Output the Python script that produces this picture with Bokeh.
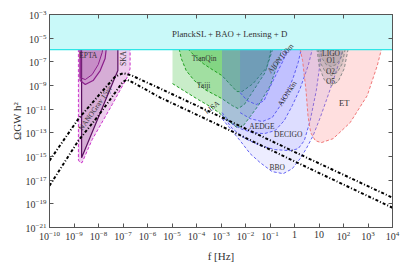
import numpy as np
from bokeh.plotting import figure
from bokeh.models import FixedTicker, LogAxis, ColumnDataSource
from bokeh.core.properties import value
from bokeh.embed import file_html
from bokeh.resources import INLINE

FONT = "Liberation Serif"

# ---- axes (exponents of ten) ----
x_range_exp = (-10, 4)
y_range_exp = (-21, -3)
x_tick_exp = list(range(-10, 5))
x_top_tick_exp = list(range(-10, 5, 2))
y_tick_exp = list(range(-21, -2, 2))
x_plain_tick_labels = {1.0: "1", 10.0: "10"}
x_title = "f [Hz]"
y_title = "ΩGW h²"

# ---- PlanckSL + BAO + Lensing + D bound ----
planck_bound_exp = -5.96
planck_label = "PlanckSL + BAO + Lensing + D"

# ---- GW spectra, log10 f [Hz] and log10 Omega h^2 ----
upper_logf = [-10.0, -8.82, -8.0, -7.32, -6.99, -6.64, -5.48, -2.95, 0.11, 4.0]
upper_logomega = [-15.35, -11.82, -9.85, -8.25, -7.95, -8.16, -9.26, -11.71, -14.72, -18.48]
lower_logf = [-10.0, -8.82, -8.0, -7.32, -7.03, -6.85, -6.50, -5.48, -2.95, 0.11, 4.0]
lower_logomega = [-17.47, -13.66, -11.54, -9.60, -8.75, -8.50, -8.85, -10.02, -12.48, -15.52, -19.33]

# ---- sensitivity curves (log10 f, log10 Omega h^2) ----
ska_logf = [-8.82, -8.82, -8.75, -8.67, -8.26, -7.44, -6.79, -6.71, -6.71]
ska_logomega = [-5.5, -15.3, -15.52, -15.52, -13.58, -10.61, -8.16, -7.57, -5.5]
nano_logf = [-8.69, -8.69, -7.21, -7.21]
nano_logomega = [-5.5, -15.10, -7.74, -5.5]
epta2_logf = [-8.75, -8.75, -8.54, -8.22, -7.93, -7.73, -7.66]
epta2_logomega = [-5.5, -8.58, -8.92, -8.58, -7.74, -6.72, -5.5]
epta1_logf = [-8.75, -8.75, -8.54, -8.26, -8.01, -7.85, -7.80]
epta1_logomega = [-5.5, -8.33, -8.50, -8.08, -7.23, -6.21, -5.5]

lisa_logf = [-4.98, -4.46, -3.93, -3.44, -3.10, -2.71, -2.34, -2.09, -1.81, -1.48, -0.99, -0.67, -0.46]
lisa_logomega = [-8.84, -9.51, -10.19, -10.78, -11.27, -11.97, -12.56, -12.39, -11.63, -10.70, -9.01, -7.06, -5.5]
taiji_logf = [-4.75, -4.62, -4.42, -4.09, -3.65, -2.96, -2.54, -2.30, -2.05, -1.73, -1.20, -0.91, -0.87]
taiji_logomega = [-5.5, -6.72, -7.74, -8.58, -9.35, -10.11, -10.70, -10.95, -10.61, -9.60, -7.91, -6.05, -5.5]
tianqin_logf = [-4.42, -4.33, -4.01, -3.71, -3.36, -2.96, -2.62, -2.35, -2.14, -1.69, -1.13, -0.99, -0.95]
tianqin_logomega = [-5.5, -5.96, -6.64, -7.17, -7.65, -8.16, -8.92, -9.51, -9.51, -8.84, -7.46, -6.30, -5.5]

aedge_logf = [-2.96, -2.62, -2.22, -1.73, -1.24, -0.79, -0.42, -0.09, 0.23, 0.56, 0.78]
aedge_logomega = [-11.29, -12.14, -12.64, -12.98, -13.07, -12.81, -11.97, -10.70, -9.26, -7.31, -5.5]
aion100_logf = [-2.22, -1.93, -1.56, -1.24, -0.99, -0.71, -0.46, -0.20]
aion100_logomega = [-9.60, -10.28, -10.61, -10.28, -9.09, -7.91, -6.89, -5.5]
aionkm_logf = [-2.22, -1.81, -1.32, -0.91, -0.58, -0.30, -0.05, 0.15, 0.32]
aionkm_logomega = [-11.29, -11.80, -12.05, -11.71, -10.70, -9.60, -8.33, -7.06, -5.5]
decigo_logf = [-2.96, -2.54, -2.01, -1.40, -0.79, -0.18, 0.15, 0.40, 0.64, 0.89, 1.05, 1.15]
decigo_logomega = [-11.46, -12.64, -13.49, -14.08, -14.42, -14.51, -14.34, -13.66, -11.97, -9.43, -7.06, -5.5]
bbo_logf = [-2.96, -2.22, -1.81, -1.40, -0.91, -0.46, -0.09, 0.23, 0.48, 0.76, 1.05, 1.34, 1.62, 1.87, 2.05]
bbo_logomega = [-11.80, -13.66, -14.76, -15.52, -16.28, -16.45, -16.03, -15.18, -14.34, -13.24, -11.71, -10.02, -8.33, -6.72, -5.5]

et_logf = [0.18, 0.33, 0.47, 0.55, 0.66, 0.85, 1.09, 1.58, 2.27, 2.97, 3.38, 3.60]
et_logomega = [-5.5, -6.89, -9.43, -11.54, -12.98, -13.66, -13.83, -13.49, -12.14, -9.85, -7.31, -5.5]
ligo_o5_logf = [0.89, 1.01, 1.21, 1.50, 1.78, 2.03, 2.23]
ligo_o5_logomega = [-5.5, -7.40, -8.50, -9.01, -8.67, -7.57, -5.5]
ligo_o2_logf = [0.93, 1.05, 1.25, 1.50, 1.74, 1.95, 2.11]
ligo_o2_logomega = [-5.5, -7.06, -7.82, -8.16, -7.91, -7.15, -5.5]
ligo_o1_logf = [0.97, 1.13, 1.29, 1.50, 1.70, 1.91, 2.03]
ligo_o1_logomega = [-5.5, -6.72, -7.23, -7.40, -7.23, -6.64, -5.5]

# ---- region labels ----
label_text = ["EPTA", "SKA", "NANOGrav 15yr", "TianQin", "Taiji", "LISA", "AEDGE", "DECIGO",
              "BBO", "AION100m", "AIONkm", "LIGO", "O1", "O2", "O5"]
label_logf = [-8.42, -6.99, -8.13, -3.69, -3.71, -3.37, -1.33, -0.26,
              -0.71, -0.58, -0.30, 1.49, 1.49, 1.47, 1.47]
label_logomega = [-6.47, -6.72, -10.91, -6.75, -9.01, -10.84, -12.45, -13.15,
                  -15.94, -6.72, -9.68, -6.33, -6.89, -7.82, -8.64]
label_angle = [0, 90, 55, 0, 0, 37, 0, 0, 0, 50, 57, 0, 0, 0, 0]
et_label = "ET"
et_label_pos = (2.03, -10.44)
planck_label_pos = (-2.64, -4.61)


def P(a):
    return 10.0 ** np.asarray(a, dtype=float)


p = figure(x_axis_type="log", y_axis_type="log",
           x_range=(float(P(x_range_exp[0])), float(P(x_range_exp[1]))),
           y_range=(float(P(y_range_exp[0])), float(P(y_range_exp[1]))),
           frame_width=343, frame_height=213,
           min_border_left=49, min_border_right=13, min_border_top=14, min_border_bottom=40,
           output_backend="svg", toolbar_location=None,
           background_fill_color="white", border_fill_color="white")
p.xgrid.visible = False
p.ygrid.visible = False
p.outline_line_color = "#555555"

AX = "#555555"


def style_axis(ax):
    ax.major_tick_in = 4
    ax.major_tick_out = 0
    ax.minor_tick_line_color = None
    ax.axis_line_color = AX
    ax.major_tick_line_color = AX
    ax.major_label_text_font = FONT
    ax.major_label_text_color = "#333333"
    ax.major_label_text_font_size = "10px"
    ax.major_label_standoff = 3
    ax.axis_label_text_font = FONT
    ax.axis_label_text_font_style = "normal"
    ax.axis_label_text_color = "#333333"
    ax.axis_label_text_font_size = "11px"


p.xaxis.ticker = FixedTicker(ticks=list(P(x_tick_exp)))
p.xaxis.major_label_overrides = x_plain_tick_labels
p.yaxis.ticker = FixedTicker(ticks=list(P(y_tick_exp)))
style_axis(p.xaxis[0])
style_axis(p.yaxis[0])
p.xaxis.axis_label = x_title
p.xaxis.axis_label_standoff = 7
p.yaxis.axis_label = y_title
p.yaxis.axis_label_standoff = 0

top_ticks = [float(t) for t in P(x_top_tick_exp)]
right_ticks = [float(t) for t in P(y_tick_exp)]
top_ax = LogAxis(ticker=FixedTicker(ticks=top_ticks),
                 major_label_overrides={t: "" for t in top_ticks})
right_ax = LogAxis(ticker=FixedTicker(ticks=right_ticks),
                   major_label_overrides={t: "" for t in right_ticks})
for ax in (top_ax, right_ax):
    style_axis(ax)
    ax.major_label_standoff = 0
p.add_layout(top_ax, "above")
p.add_layout(right_ax, "right")

REGION_TOP = -5.0


def region(logf, logom, fill, alpha, line_color, dash="3 2", width=1.0, line_alpha=1.0):
    xs = [logf[0]] + list(logf) + [logf[-1]]
    ys = [REGION_TOP] + list(logom) + [REGION_TOP]
    p.patch(P(xs), P(ys), fill_color=fill, fill_alpha=alpha, line_alpha=0)
    p.line(P(logf), P(logom), line_color=line_color, line_dash=dash, line_width=width,
           line_alpha=line_alpha)


# PTA
region(ska_logf, ska_logomega, "#cc66cc", 0.33, "#cc33cc")
region(nano_logf, nano_logomega, "#9a5a9a", 0.28, "#5a1060", dash="solid", width=1.2)
region(epta2_logf, epta2_logomega, "#b050b0", 0.2, "#8a1f8a", dash="solid", width=1.2)
region(epta1_logf, epta1_logomega, "#a040a0", 0.15, "#8a1f8a", dash="solid", width=1.0)

# space-based, green
GF, GL = "#2eb82e", "#1f9f1f"
region(lisa_logf, lisa_logomega, GF, 0.26, GL)
region(taiji_logf, taiji_logomega, GF, 0.26, GL)
region(tianqin_logf, tianqin_logomega, GF, 0.26, GL)

# atom interferometers / DECIGO / BBO, blue
BF, BL = "#5a5aff", "#4a4af0"
for lf, lo in [(bbo_logf, bbo_logomega), (decigo_logf, decigo_logomega),
               (aedge_logf, aedge_logomega), (aionkm_logf, aionkm_logomega),
               (aion100_logf, aion100_logomega)]:
    region(lf, lo, BF, 0.11, BL, line_alpha=0.85)

# ET and LIGO
region(et_logf, et_logomega, "#ff8c8c", 0.28, "#f07878")
for lf, lo in [(ligo_o5_logf, ligo_o5_logomega), (ligo_o2_logf, ligo_o2_logomega),
               (ligo_o1_logf, ligo_o1_logomega)]:
    region(lf, lo, "#808080", 0.18, "#8a8a8a")

# spectra
for lf, lo in [(upper_logf, upper_logomega), (lower_logf, lower_logomega)]:
    p.line(P(lf), P(lo), line_color="black", line_width=2.0, line_dash="3 2 1 2")

# Planck band
p.quad(left=[float(P(x_range_exp[0]))], right=[float(P(x_range_exp[1]))],
       bottom=[float(P(planck_bound_exp))], top=[float(P(y_range_exp[1]))],
       fill_color="#c9f9f9", line_color=None)
p.line(P(list(x_range_exp)), P([planck_bound_exp, planck_bound_exp]),
       line_color="#2ee6e6", line_width=1.2)

# labels
src = ColumnDataSource(dict(x=P(label_logf), y=P(label_logomega), text=label_text,
                            angle=label_angle))
p.text(x="x", y="y", text="text", angle="angle", angle_units="deg", source=src,
       text_font=value(FONT), text_font_size="7.5px", text_color="#333333",
       text_align="center", text_baseline="middle")
p.text(x=[float(P(et_label_pos[0]))], y=[float(P(et_label_pos[1]))], text=[et_label],
       text_font=value(FONT), text_font_size="8.5px", text_color="#333333",
       text_align="center", text_baseline="middle")
p.text(x=[float(P(planck_label_pos[0]))], y=[float(P(planck_label_pos[1]))], text=[planck_label],
       text_font=value(FONT), text_font_size="8.8px", text_color="#333333",
       text_align="center", text_baseline="middle")

open("out.html", "w").write(file_html(p, INLINE))
